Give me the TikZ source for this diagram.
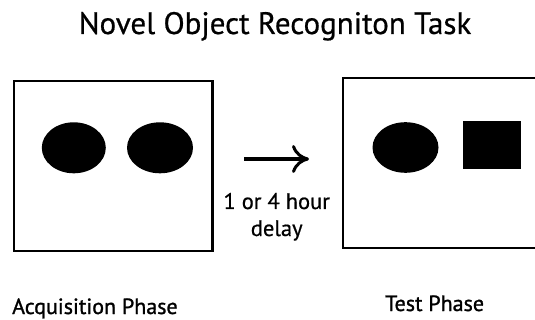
\documentclass[tikz,border=0pt]{standalone}
\usepackage{fontspec}
\setmainfont{PT Sans}
\newfontfamily\heavysans[FakeBold=1.2]{PT Sans}
\newfontfamily\midsans[FakeBold=0.6]{PT Sans}
\usetikzlibrary{arrows.meta}
\begin{document}
\begin{tikzpicture}[x=1pt,y=-1pt,
  frame/.style={draw=black,line width=2.2pt},
  blob/.style={fill=black},
  lbl/.style={inner sep=0pt,anchor=base,text=black}]
\useasboundingbox (0,0) rectangle (535,320);
\clip (0,0) rectangle (535,320);
% title
\node[lbl,font=\midsans\fontsize{31}{34}\selectfont] (title) at (275,34) {Novel Object Recogniton Task};
% acquisition arena with two identical objects
\draw[frame] (14,81) rectangle (212.5,251);
\fill[blob] (73.8,147.8) ellipse [x radius=32, y radius=25.5];
\fill[blob] (160,147.8) ellipse [x radius=33, y radius=25.5];
% test arena with one familiar and one novel object
\draw[frame] (342.7,78) rectangle (545,248);
\fill[blob] (405.5,147.5) ellipse [x radius=33, y radius=25.3];
\fill[blob] (463.3,120.7) rectangle (520.7,169.3);
% delay arrow and caption
\coordinate (a0) at (244,159);
\coordinate (a1) at (309,159);
\draw[line width=3.6pt,-{Computer Modern Rightarrow[length=17pt,width=28pt,line width=3pt]}] (a0) -- (a1);
\node[lbl,font=\midsans\fontsize{22.5}{24}\selectfont] (d1) at (276.7,209) {1 or 4 hour};
\node[lbl,font=\midsans\fontsize{22.5}{24}\selectfont] (d2) at (276.7,236) {delay};
% phase labels
\node[lbl,font=\heavysans\fontsize{22}{24}\selectfont,anchor=base west] (acq) at (12,314) {Acquisition Phase};
\node[lbl,font=\heavysans\fontsize{22}{24}\selectfont,anchor=base west] (tst) at (385,311) {Test Phase};
\end{tikzpicture}
\end{document}
